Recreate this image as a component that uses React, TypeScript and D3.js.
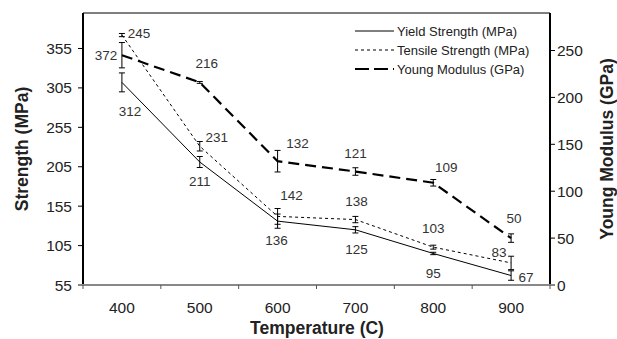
import React from 'react'
import * as d3 from 'd3'

// data
const temps = ['400', '500', '600', '700', '800', '900']
const yieldStrength = [312, 211, 136, 125, 95, 67]
const yieldErr = [12, 7, 9, 4, 1.5, 6]
const tensileStrength = [372, 231, 142, 138, 103, 83]
const tensileErr = [2, 6, 10, 4, 2.5, 8.5]
const youngModulus = [245, 216, 132, 121, 109, 50]
const youngErr = [13.5, 1, 11.5, 4, 3.5, 4.5]
const leftTicks = [55, 105, 155, 205, 255, 305, 355]
const rightTicks = [0, 50, 100, 150, 200, 250]

const width = 617,
      height = 339,
      left = 83,
      right = 550,
      top = 13,
      bottom = 285

const font = '"Liberation Sans", Arial, sans-serif'

// where each value label sits relative to its point (px)
const yieldLabelPos = [[8, 29], [0, 19], [-1, 19], [1, 19], [0, 19.5], [15, 2]]
const tensileLabelPos = [[-16, 20], [17, -9], [14, -21], [1, -18], [0, -19], [-12, -11]]
const youngLabelPos = [[17, -22], [7, -19], [20, -18], [0, -18.5], [13, -16], [3, -20]]

const x = d3.scaleBand().domain(temps).range([left, right])
const cx = (t: string) => (x(t) as number) + x.bandwidth() / 2
const yL = d3.scaleLinear().domain([55, 400]).range([bottom, top])
const yR = d3.scaleLinear().domain([0, 290]).range([bottom, top])

const lineOf = (scale: d3.ScaleLinear<number, number>) =>
  d3.line<number>()
    .x((d, i) => cx(temps[i]))
    .y(d => scale(d))

const series = [
  { name: 'Yield Strength (MPa)', values: yieldStrength, err: yieldErr, scale: yL, dash: 'none', sw: 1, labels: yieldLabelPos },
  { name: 'Tensile Strength (MPa)', values: tensileStrength, err: tensileErr, scale: yL, dash: '3,3', sw: 1, labels: tensileLabelPos },
  { name: 'Young Modulus (GPa)', values: youngModulus, err: youngErr, scale: yR, dash: '11,6', sw: 2.2, labels: youngLabelPos }
]

export default function App () {
  return (
    <svg width={width} height={height} style={{ display: 'block', position: 'absolute', left: 0, top: 0, background: '#fff' }} fontFamily={font}>
      {/* frame: top line, left + right axis, grey bottom axis */}
      <line x1={left} x2={right} y1={top} y2={top} stroke='#000' strokeWidth={1} />
      <line x1={left} x2={left} y1={top} y2={bottom} stroke='#000' strokeWidth={2} />
      <line x1={right} x2={right} y1={top} y2={bottom} stroke='#000' strokeWidth={2} />

      {/* left axis */}
      {leftTicks.map(d => (
        <g key={d} transform={`translate(${left}, ${yL(d)})`}>
          <line x1={-5} x2={0} y1={0} y2={0} stroke='#000' />
          <text x={-11} y={5.5} textAnchor='end' fontSize={15.5} fill='#222'>{d}</text>
        </g>
      ))}
      {/* right axis */}
      {rightTicks.map(d => (
        <g key={d} transform={`translate(${right}, ${yR(d)})`}>
          <line x1={0} x2={5} y1={0} y2={0} stroke='#000' />
          <text x={7} y={5.5} fontSize={15.5} fill='#222'>{d}</text>
        </g>
      ))}
      {/* x axis */}
      <line x1={left - 4} x2={right + 4} y1={bottom} y2={bottom} stroke='#888' strokeWidth={2} />
      {d3.range(temps.length + 1).map(i => {
        const px = left + i * x.bandwidth()
        return <line key={i} x1={px} x2={px} y1={bottom} y2={bottom + 4} stroke='#555' />
      })}
      {temps.map(t => (
        <text key={t} x={cx(t)} y={313} textAnchor='middle' fontSize={15.5} fill='#222'>{t}</text>
      ))}

      {/* axis titles */}
      <text x={317} y={334} textAnchor='middle' fontSize={17.5} fontWeight='bold' fill='#222'>Temperature (C)</text>
      <text transform={`translate(28, ${(top + bottom) / 2}) rotate(-90)`} textAnchor='middle' fontSize={17.5} fontWeight='bold' fill='#222'>Strength (MPa)</text>
      <text transform={`translate(613, ${(top + bottom) / 2}) rotate(-90)`} textAnchor='middle' fontSize={17.5} fontWeight='bold' fill='#222'>Young Modulus (GPa)</text>

      {series.map(s => (
        <g key={s.name}>
          <path d={lineOf(s.scale)(s.values) as string} fill='none' stroke='#000' strokeWidth={s.sw} strokeDasharray={s.dash} />
          {s.values.map((v, i) => {
            const px = cx(temps[i])
            const y1 = s.scale(v - s.err[i])
            const y2 = s.scale(v + s.err[i])
            return (
              <g key={i} stroke='#000' strokeWidth={1}>
                <line x1={px} x2={px} y1={y1} y2={y2} />
                <line x1={px - 3} x2={px + 3} y1={y1} y2={y1} />
                <line x1={px - 3} x2={px + 3} y1={y2} y2={y2} />
              </g>
            )
          })}
          {s.values.map((v, i) => (
            <text key={'l' + i} x={cx(temps[i]) + s.labels[i][0]} y={s.scale(v) + s.labels[i][1] + 4.8}
              textAnchor='middle' fontSize={13.5} fill='#333'>{v}</text>
          ))}
        </g>
      ))}

      {/* legend */}
      {series.map((s, i) => (
        <g key={s.name} transform={`translate(355, ${31 + i * 19})`}>
          <line x1={0} x2={39} y1={0} y2={0} stroke='#000' strokeWidth={s.sw} strokeDasharray={s.dash === '11,6' ? '14,5' : s.dash} />
          <text x={42} y={4.5} fontSize={13} fill='#222'>{s.name}</text>
        </g>
      ))}
    </svg>
  )
}
